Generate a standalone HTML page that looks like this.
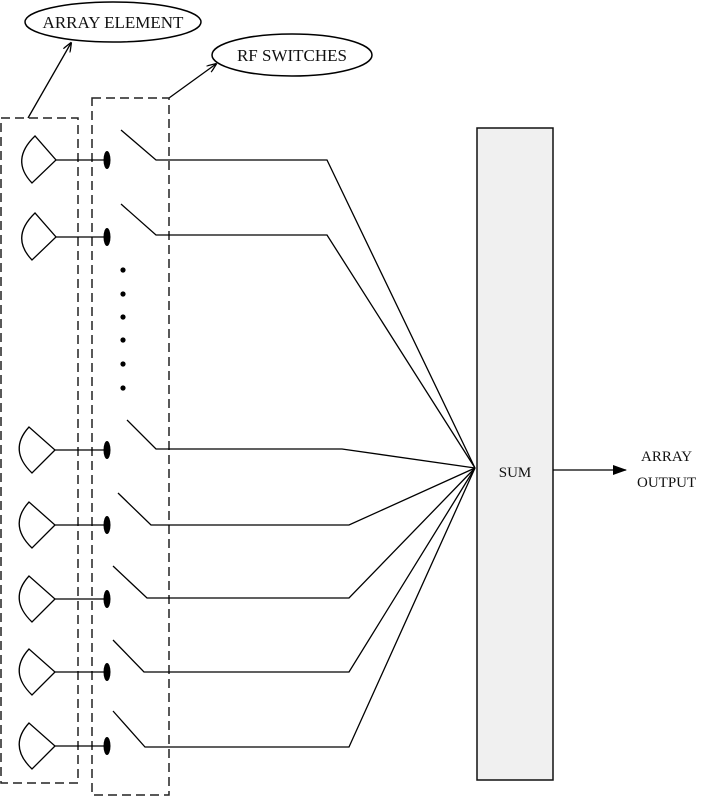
<!DOCTYPE html>
<html><head><style>body{margin:0;background:#fff}svg{display:block}</style></head>
<body>
<svg width="709" height="797" viewBox="0 0 709 797" xmlns="http://www.w3.org/2000/svg">
<defs><marker id="a" markerWidth="10" markerHeight="8" refX="9" refY="4" orient="auto" markerUnits="userSpaceOnUse"><path d="M0,0 L10,4 L0,8" fill="none" stroke="#000" stroke-width="1.3"/></marker>
<marker id="b" markerWidth="14" markerHeight="10" refX="13" refY="5" orient="auto" markerUnits="userSpaceOnUse"><path d="M0,0 L14,5 L0,10Z" fill="#000"/></marker></defs>
<g fill="none" stroke="#000" stroke-width="1.5">
<ellipse cx="113" cy="22" rx="88" ry="20"/>
<ellipse cx="292" cy="55" rx="80" ry="21"/>
<line x1="28" y1="118" x2="71" y2="43" marker-end="url(#a)" stroke-width="1.3"/>
<line x1="169" y1="98" x2="216" y2="64" marker-end="url(#a)" stroke-width="1.3"/>
<rect x="1" y="118" width="77" height="665" stroke-dasharray="9,5" stroke="#222"/>
<rect x="92" y="98" width="77" height="697" stroke-dasharray="9,5" stroke="#222"/>
<rect x="477" y="128" width="76" height="652" fill="#f0f0f0" stroke="#111"/>
<g stroke-width="1.3">
<path d="M35,136 Q10,160 32,183 L56,160 Z"/>
<path d="M35,213 Q10,237 32,260 L56,237 Z"/>
<path d="M29,427 Q8,450 32,473 L55,450 Z"/>
<path d="M29,502 Q8,525 32,548 L55,525 Z"/>
<path d="M29,576 Q8,599 32,622 L55,599 Z"/>
<path d="M29,649 Q8,672 32,695 L55,672 Z"/>
<path d="M29,723 Q8,746 32,769 L55,746 Z"/>
<path d="M56,160H107M56,237H107M55,450H107M55,525H107M55,599H107M55,672H107M55,746H107"/>
<path d="M121,130 L156,160 L327,160 L475,468"/>
<path d="M121,204 L156,235 L327,235 L475,468"/>
<path d="M127,420 L156,449 L342,449 L475,468"/>
<path d="M118,493 L151,525 L349,525 L475,468"/>
<path d="M113,566 L147,598 L349,598 L475,468"/>
<path d="M113,640 L144,672 L349,672 L475,468"/>
<path d="M113,711 L145,747 L349,747 L475,468"/>
<line x1="553" y1="470" x2="626" y2="470" marker-end="url(#b)"/>
</g>
</g>
<g fill="#000">
<ellipse cx="107" cy="160" rx="3.5" ry="9"/><ellipse cx="107" cy="237" rx="3.5" ry="9"/>
<ellipse cx="107" cy="450" rx="3.5" ry="9"/><ellipse cx="107" cy="525" rx="3.5" ry="9"/>
<ellipse cx="107" cy="599" rx="3.5" ry="9"/><ellipse cx="107" cy="672" rx="3.5" ry="9"/>
<ellipse cx="107" cy="746" rx="3.5" ry="9"/>
<circle cx="123" cy="270" r="2.6"/><circle cx="123" cy="294" r="2.6"/><circle cx="123" cy="317" r="2.6"/>
<circle cx="123" cy="340" r="2.6"/><circle cx="123" cy="364" r="2.6"/><circle cx="123" cy="388" r="2.6"/>
</g>
<g font-family="Liberation Serif, serif" font-size="16" fill="#111">
<text x="113" y="28" text-anchor="middle" font-size="17">ARRAY ELEMENT</text>
<text x="292" y="61" text-anchor="middle" font-size="17">RF SWITCHES</text>
<text x="515" y="477" text-anchor="middle" font-size="15">SUM</text>
<text x="641" y="461" font-size="15">ARRAY</text>
<text x="637" y="487" font-size="15">OUTPUT</text>
</g>
</svg>
</body></html>
